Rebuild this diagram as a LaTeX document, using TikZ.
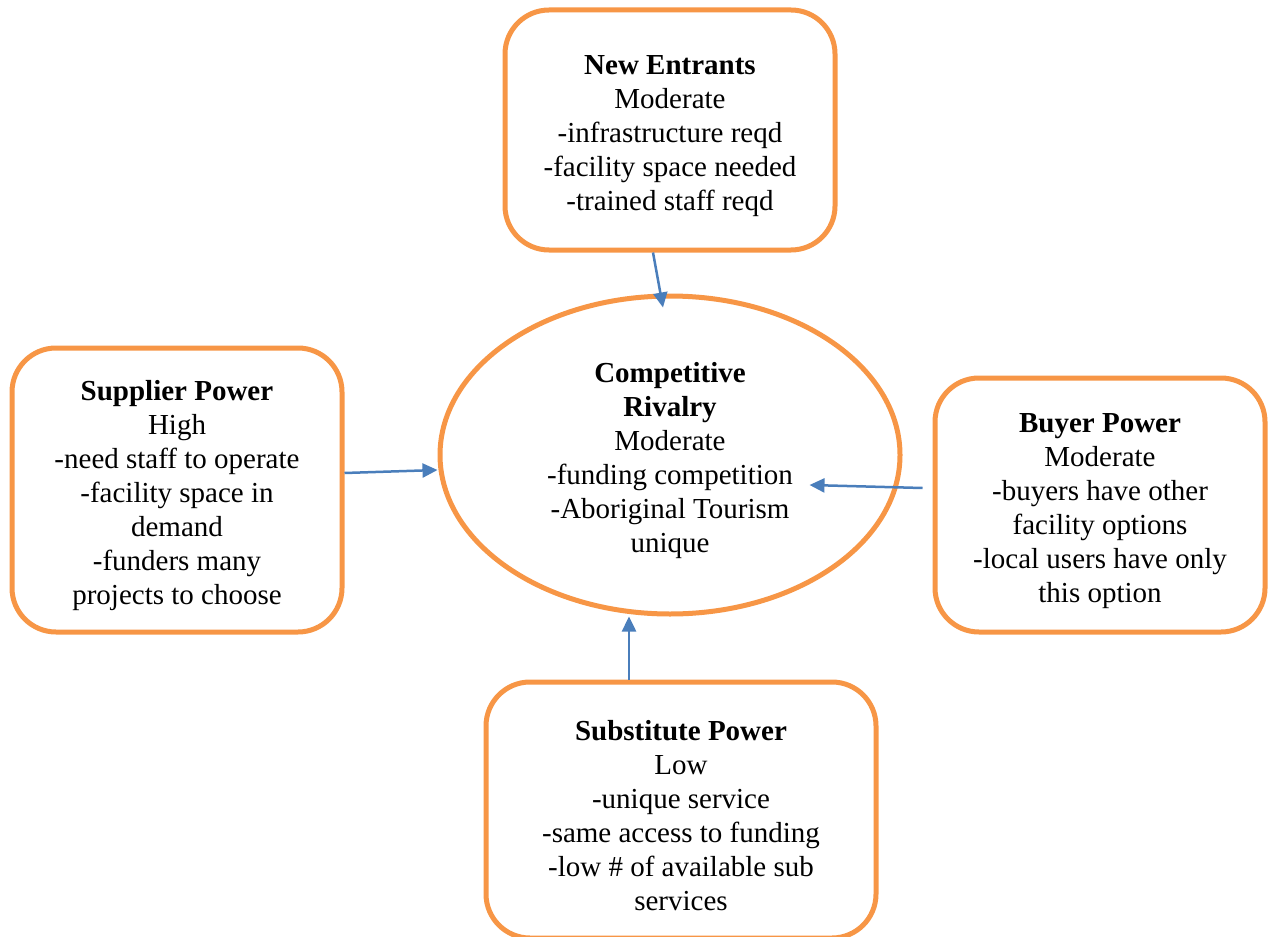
\documentclass[tikz,border=0pt]{standalone}
\usepackage{fontspec}
\setmainfont{Liberation Serif}
\usepackage{tikz}
\usetikzlibrary{arrows.meta,shapes.geometric}
\definecolor{forceorange}{HTML}{F79646}
\definecolor{arrowblue}{HTML}{4A7EBB}
\newcommand{\toppad}{\rule{0pt}{15.5pt}}
\tikzset{
  every picture/.style={line join=round, >=Stealth},
  forcebox/.style={draw=forceorange, line width=2.5pt, rounded corners=22pt, fill=white,
    align=center, inner sep=0pt, font=\fontsize{14.5}{17}\selectfont},
  rivalry/.style={ellipse, draw=forceorange, line width=2.5pt, fill=white,
    align=center, inner sep=0pt, font=\fontsize{14.5}{17}\selectfont},
  push/.style={draw=arrowblue, line width=1.25pt, -{Triangle[length=7.5pt,width=7pt]}},
}

\begin{document}
\begin{tikzpicture}[x=0.5pt,y=-0.5pt]
\useasboundingbox (0,0) rectangle (1272,936);
% the five forces
\node[rivalry, minimum width=230pt, minimum height=159pt] (rival) at (670,455)
  {\toppad\textbf{Competitive}\\\textbf{Rivalry}\\Moderate\\-funding competition\\-Aboriginal Tourism\\unique};
\node[forcebox, minimum width=165pt, minimum height=120pt] (entrants) at (670,130)
  {\toppad\textbf{New Entrants}\\Moderate\\-infrastructure reqd\\-facility space needed\\-trained staff reqd};
\node[forcebox, minimum width=165pt, minimum height=142pt] (supplier) at (177,490)
  {\toppad\textbf{Supplier Power}\\High\\-need staff to operate\\-facility space in\\demand\\-funders many\\projects to choose};
\node[forcebox, minimum width=165pt, minimum height=127pt] (buyer) at (1100,505)
  {\toppad\textbf{Buyer Power}\\Moderate\\-buyers have other\\facility options\\-local users have only\\this option};
\node[forcebox, minimum width=195pt, minimum height=128pt] (subst) at (681,810)
  {\toppad\textbf{Substitute Power}\\Low\\-unique service\\-same access to funding\\-low \# of available sub\\services};
% arrows into the rivalry
\draw[push] ([xshift=-8.5pt]entrants.south) -- ([xshift=-3.5pt,yshift=-7pt]rival.north);
\draw[push] ([yshift=8.5pt]supplier.east) -- ([yshift=-7.5pt]rival.west);
\draw[push] ([xshift=-5pt,yshift=8.5pt]buyer.west) -- ([xshift=-46.5pt,yshift=-15pt]rival.east);
\draw[push] ([xshift=-26pt]subst.north) -- ([xshift=-20.5pt]rival.south);
\end{tikzpicture}
\end{document}
